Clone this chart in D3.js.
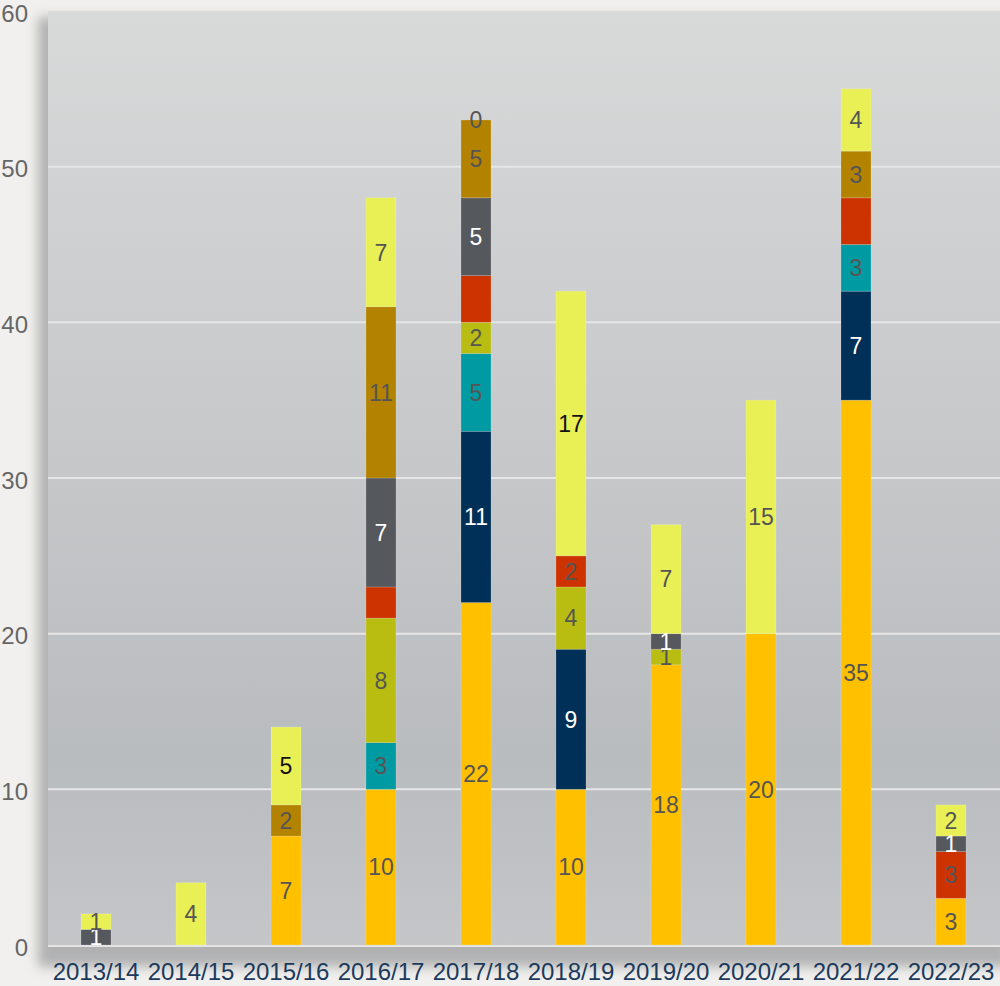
<!DOCTYPE html>
<html><head><meta charset="utf-8">
<script src="https://cdn.jsdelivr.net/npm/d3@7"></script>
<style>
html,body{margin:0;padding:0;background:#f1f0ee;}
svg{display:block;font-family:"Liberation Sans",Arial,sans-serif;}
</style></head>
<body>
<svg id="chart" width="1000" height="986"></svg>
<script>
const categories = ["2013/14","2014/15","2015/16","2016/17","2017/18","2018/19","2019/20","2020/21","2021/22","2022/23"];
const seriesNames = ["orange","navy","teal","olive","red","grey","brown","yellow"];
const orangeVals = [0, 0, 7, 10, 22, 10, 18, 20, 35, 3];
const navyVals   = [0, 0, 0, 0, 11, 9, 0, 0, 7, 0];
const tealVals   = [0, 0, 0, 3, 5, 0, 0, 0, 3, 0];
const oliveVals  = [0, 0, 0, 8, 2, 4, 1, 0, 0, 0];
const redVals    = [0, 0, 0, 2, 3, 2, 0, 0, 3, 3];
const greyVals   = [1, 0, 0, 7, 5, 0, 1, 0, 0, 1];
const brownVals  = [0, 0, 2, 11, 5, 0, 0, 0, 3, 0];
const yellowVals = [1, 4, 5, 7, 0, 17, 7, 15, 4, 2];
// labels shown even when the value is 0
const zeroLabels = [["yellow","2017/18"]];
// labels not shown in the reference
const hiddenLabels = [["red","2016/17"],["red","2017/18"],["red","2021/22"]];
// labels drawn in black instead of grey
const blackLabels = [["yellow","2015/16"],["yellow","2018/19"]];
const yTicks = [0,10,20,30,40,50,60];

const seriesColors = {orange:"#FFC000",navy:"#003058",teal:"#009AA3",olive:"#B9BD12",red:"#CC3300",grey:"#55585D",brown:"#B38300",yellow:"#E9F055"};
const labelColors = {orange:"#555",navy:"#fff",teal:"#555",olive:"#555",red:"#555",grey:"#fff",brown:"#555",yellow:"#555"};
const valuesBySeries = {orange:orangeVals,navy:navyVals,teal:tealVals,olive:oliveVals,red:redVals,grey:greyVals,brown:brownVals,yellow:yellowVals};

const table = categories.map((c,i)=>{
  const row = {cat:c};
  seriesNames.forEach(s=>row[s]=valuesBySeries[s][i]);
  return row;
});
const stacked = d3.stack().keys(seriesNames)(table);

const svg = d3.select("#chart");
const W = 1000, H = 986;
const plot = {left:48, right:1000, top:11, bottom:945};

const defs = svg.append("defs");
const bg = defs.append("linearGradient").attr("id","bgGrad").attr("x1",0).attr("y1",0).attr("x2",0).attr("y2",1);
bg.append("stop").attr("offset","0%").attr("stop-color","#d8d9d9");
bg.append("stop").attr("offset","55%").attr("stop-color","#c3c5c7");
bg.append("stop").attr("offset","80%").attr("stop-color","#b9bcbf");
bg.append("stop").attr("offset","100%").attr("stop-color","#c4c6c8");
const blur = defs.append("filter").attr("id","shadow").attr("x","-10%").attr("y","-10%").attr("width","120%").attr("height","120%");
blur.append("feGaussianBlur").attr("stdDeviation",6);

svg.append("rect").attr("x",0).attr("y",0).attr("width",W).attr("height",H).attr("fill","#f1f0ee");

// shadow of plot frame
svg.append("rect").attr("x",plot.left-10).attr("y",plot.top+6).attr("width",plot.right-plot.left+20).attr("height",plot.bottom-plot.top+16)
  .attr("fill","#7d7f82").attr("opacity",0.55).attr("filter","url(#shadow)");
svg.append("rect").attr("x",plot.left).attr("y",plot.top).attr("width",plot.right-plot.left).attr("height",plot.bottom-plot.top)
  .attr("fill","url(#bgGrad)");

const x = d3.scaleBand().domain(categories).range([48.5,998.5]).paddingInner(0.684).paddingOuter(0.342);
const y = d3.scaleLinear().domain([0,60]).range([plot.bottom, plot.top]);

// gridlines
svg.append("g").selectAll("line").data(yTicks.filter(t=>t>0 && t<60)).join("line")
  .attr("x1",plot.left).attr("x2",plot.right)
  .attr("y1",d=>y(d)).attr("y2",d=>y(d))
  .attr("stroke","#e6e6e6").attr("stroke-width",2);

// y axis labels
const yAxis = d3.axisLeft(y).tickValues(yTicks).tickSize(0).tickPadding(0);
const yg = svg.append("g").attr("transform","translate(28,0)").call(yAxis);
yg.select(".domain").remove();
yg.selectAll("text").attr("font-size",24).attr("fill","#666").attr("font-family","Liberation Sans, Arial, sans-serif")
  .attr("dy","0.42em");

// bars
const inList = (list,s,c)=>list.some(p=>p[0]===s&&p[1]===c);
const gBars = svg.append("g");
stacked.forEach(layer=>{
  const s = layer.key;
  gBars.append("g").selectAll("rect").data(layer.filter(d=>d[1]-d[0]>0)).join("rect")
    .attr("x",d=>x(d.data.cat)).attr("width",x.bandwidth())
    .attr("y",d=>y(d[1])).attr("height",d=>y(d[0])-y(d[1]))
    .attr("fill",seriesColors[s])
    .attr("stroke","rgba(255,255,255,0.22)").attr("stroke-width",0.8);
});

// baseline
svg.append("line").attr("x1",plot.left).attr("x2",plot.right).attr("y1",plot.bottom+1).attr("y2",plot.bottom+1)
  .attr("stroke","#e4e4e4").attr("stroke-width",2);

// x axis labels
const xAxis = d3.axisBottom(x).tickSize(0).tickPadding(0);
const xg = svg.append("g").attr("transform",`translate(0,${plot.bottom+18})`).call(xAxis);
xg.select(".domain").remove();
xg.selectAll("text").attr("font-size",24).attr("fill","#1b3a5c").attr("font-family","Liberation Sans, Arial, sans-serif")
  .attr("dy","0.71em");

// value labels
const gLab = svg.append("g");
stacked.forEach(layer=>{
  const s = layer.key;
  const data = layer.filter(d=>{
    const v = d[1]-d[0];
    if (inList(hiddenLabels,s,d.data.cat)) return false;
    return v>0 || inList(zeroLabels,s,d.data.cat);
  });
  gLab.append("g").selectAll("text").data(data).join("text")
    .attr("x",d=>x(d.data.cat)+x.bandwidth()/2)
    .attr("y",d=>(y(d[0])+y(d[1]))/2)
    .attr("dy","0.36em")
    .attr("text-anchor","middle")
    .attr("font-size",23)
    .attr("fill",d=>inList(blackLabels,s,d.data.cat)?"#111":labelColors[s])
    .text(d=>d[1]-d[0]);
});
</script>
</body></html>
